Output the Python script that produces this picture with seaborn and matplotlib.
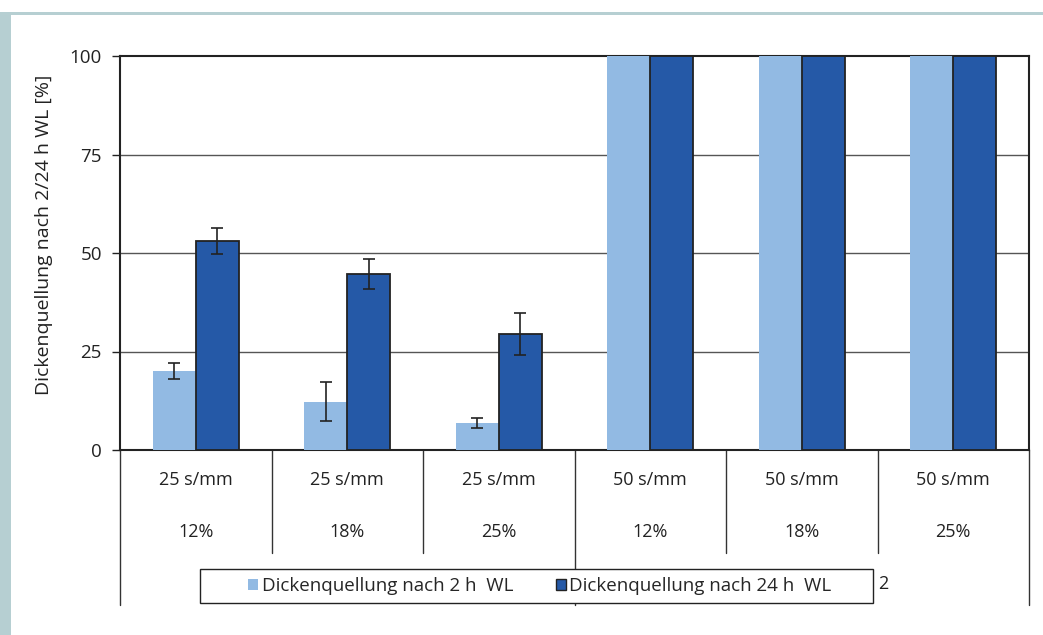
import matplotlib
matplotlib.use("Agg")
import matplotlib.pyplot as plt
import matplotlib.transforms as mtransforms
from matplotlib.patches import Rectangle, Patch
import seaborn as sns
import pandas as pd

# ---- data ----
speeds = ["25 s/mm", "25 s/mm", "25 s/mm", "50 s/mm", "50 s/mm", "50 s/mm"]
shares = ["12%", "18%", "25%", "12%", "18%", "25%"]
series = ["Dickenquellung nach 2 h  WL", "Dickenquellung nach 24 h  WL"]
vals_2h = [20.0, 12.3, 6.8, 100, 100, 100]
err_2h = [2.1, 4.9, 1.3, 0, 0, 0]
vals_24h = [53.1, 44.6, 29.4, 100, 100, 100]
err_24h = [3.3, 3.8, 5.4, 0, 0, 0]
yticks = [0, 25, 50, 75, 100]
ylabel = "Dickenquellung nach 2/24 h WL [%]"
note = "2"

colors = ["#92bae3", "#2559a7"]

sns.set_theme(style="white")
plt.rcParams["font.family"] = ["Open Sans", "DejaVu Sans"]

groups = [f"g{i}" for i in range(len(speeds))]
df = pd.DataFrame({
    "grp": groups * 2,
    "val": vals_2h + vals_24h,
    "ser": [series[0]] * len(groups) + [series[1]] * len(groups),
})

W, H = 1043, 635
fig = plt.figure(figsize=(W / 100, H / 100), dpi=100)
fig.patch.set_facecolor("white")
# page decorations
strip = "#b6cfd2"
fig.add_artist(Rectangle((0, 0), 11 / W, 1 - 12 / H, transform=fig.transFigure,
                         facecolor=strip, edgecolor="none", zorder=0))
fig.add_artist(Rectangle((0, 1 - 15 / H), 1, 3 / H, transform=fig.transFigure,
                         facecolor=strip, edgecolor="none", zorder=0))

L, R, T, B = 120, 1029, 56, 450
ax = fig.add_axes([L / W, 1 - B / H, (R - L) / W, (B - T) / H])
ax.set_facecolor("white")

sns.barplot(data=df, x="grp", y="val", hue="ser", palette=colors, width=0.57,
            errorbar=None, ax=ax, saturation=1, legend=False, zorder=3)

bar_conts = list(ax.containers)
for ci, cont in enumerate(bar_conts):
    errs = err_2h if ci == 0 else err_24h
    vals = vals_2h if ci == 0 else vals_24h
    for bar, v, e in zip(list(cont), vals, errs):
        if ci == 1:
            bar.set_edgecolor("#222222")
            bar.set_linewidth(1.3)
        else:
            bar.set_edgecolor("none")
        if e > 0:
            ax.errorbar(bar.get_x() + bar.get_width() / 2, v, yerr=e, fmt="none",
                        ecolor="#222222", elinewidth=1.2, capsize=4, capthick=1.2,
                        zorder=5)

ax.set_ylim(0, 100)
ax.set_xlim(-0.5, len(groups) - 0.5)
ax.set_yticks(yticks)
ax.set_yticklabels([str(t) for t in yticks], fontsize=13.5, color="#222222")
ax.tick_params(axis="y", direction="out", length=6, width=1, color="#222222",
               pad=7, left=True)
ax.set_xticks([])
ax.set_xlabel("")
ax.set_ylabel(ylabel, fontsize=14, color="#222222")
ax.yaxis.set_label_coords((53 - L) / (R - L), (B - 235) / (B - T))
for y in yticks[1:-1]:
    ax.axhline(y, color="#555555", lw=1.0, zorder=1)
for s in ax.spines.values():
    s.set_color("#222222")
    s.set_linewidth(1.5)
    s.set_visible(True)

# multi-level category axis
tr = mtransforms.blended_transform_factory(ax.transData, ax.transAxes)
ah = B - T
short = -(553 - B) / ah
long_ = -(605 - B) / ah
n = len(groups)
for i in range(n + 1):
    x = i - 0.5
    is_long = (i == 0 or i == n or speeds[i - 1] != speeds[min(i, n - 1)])
    ax.plot([x, x], [0, long_ if is_long else short], transform=tr, color="#333333",
            lw=1.0, clip_on=False)
for i in range(n):
    ax.text(i, -(480 - B) / ah, speeds[i], transform=tr, ha="center", va="center",
            fontsize=13, color="#222222")
    ax.text(i, -(532 - B) / ah, shares[i], transform=tr, ha="center", va="center",
            fontsize=13, color="#222222")

# legend
fig.add_artist(Rectangle((200 / W, 1 - 603 / H), (873 - 200) / W, 34 / H,
                         transform=fig.transFigure, facecolor="white",
                         edgecolor="#222222", lw=1.0, zorder=4))
handles = [Patch(facecolor=colors[0], edgecolor="none"),
           Patch(facecolor=colors[1], edgecolor="#222222", lw=1)]
leg = fig.legend(handles, series, loc="center", bbox_to_anchor=(540 / W, 1 - 586 / H),
                 ncol=2, frameon=False, fontsize=13.5, handlelength=0.5,
                 handleheight=0.5, handletextpad=0.2, columnspacing=2.3)
leg.set_zorder(5)
fig.text(878 / W, 1 - 584 / H, note, fontsize=13, color="#222222", va="center",
         ha="left")

fig.savefig("out.png", dpi=100, facecolor="white")
